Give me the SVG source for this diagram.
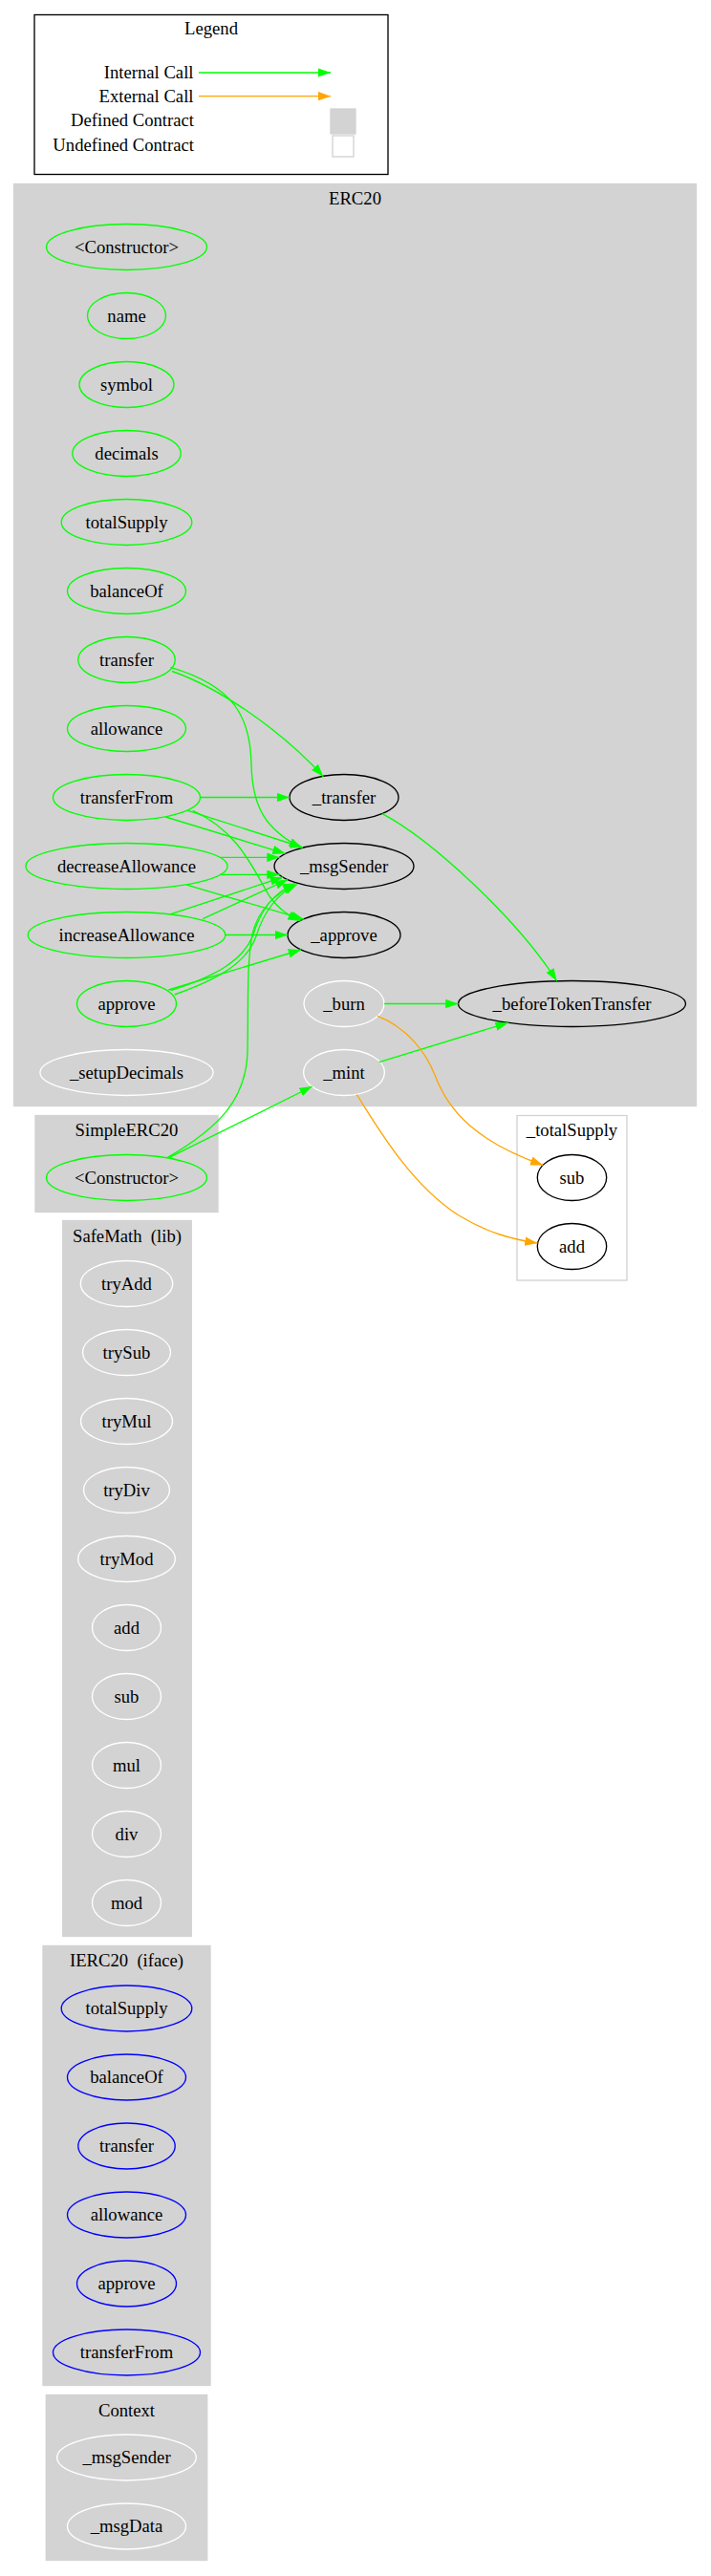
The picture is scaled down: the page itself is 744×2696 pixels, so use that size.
<svg xmlns="http://www.w3.org/2000/svg" width="744" height="2696" viewBox="0 0 744 2696">
<style>
text{font-family:"Liberation Serif","Times New Roman",serif;font-size:18.67px;fill:#000;text-anchor:middle}
.end{text-anchor:end}
.pre{white-space:pre}
.cl{fill:#d3d3d3;stroke:#d3d3d3;stroke-width:1.33}
.ud{fill:#fff;stroke:#d3d3d3;stroke-width:1.33}
ellipse{fill:none;stroke-width:1.33}
.g{stroke:#00ff00}.k{stroke:#000}.w{stroke:#fff}.b{stroke:#0000ff}
.e{fill:none;stroke-width:1.33}
.ge{stroke:#00ff00;marker-end:url(#ag)}
.oe{stroke:#ffa500;marker-end:url(#ao)}
</style>
<defs>
<marker id="ag" viewBox="0 0 13.3 9.4" refX="13.3" refY="4.7" markerWidth="13.3" markerHeight="9.4" markerUnits="userSpaceOnUse" orient="auto"><path d="M0,0 L13.3,4.7 L0,9.4 z" fill="#00ff00"/></marker>
<marker id="ao" viewBox="0 0 13.3 9.4" refX="13.3" refY="4.7" markerWidth="13.3" markerHeight="9.4" markerUnits="userSpaceOnUse" orient="auto"><path d="M0,0 L13.3,4.7 L0,9.4 z" fill="#ffa500"/></marker>
</defs>
<rect x="0" y="0" width="744" height="2696" fill="#fff"/>

<g id="legend">
<rect x="36" y="15.5" width="370" height="167" fill="none" stroke="#000" stroke-width="1.33"/>
<text x="221" y="36">Legend</text>
<text class="end" x="202.5" y="82">Internal Call</text>
<path class="e ge" d="M208,76 L346,76"/>
<text class="end" x="202.5" y="106.7">External Call</text>
<path class="e oe" d="M208,100.7 L346,100.7"/>
<text class="end" x="203" y="132">Defined Contract</text>
<rect class="cl" x="346" y="114" width="26" height="26"/>
<text class="end" x="203" y="158">Undefined Contract</text>
<rect class="ud" x="348" y="142" width="22" height="22"/>
</g>

<g id="cluster_ERC20">
<rect class="cl" x="14.5" y="192.5" width="714" height="965"/>
<text x="371.5" y="214">ERC20</text>
</g>
<g id="ERC20_ctor"><ellipse class="g" cx="132.5" cy="258.5" rx="84" ry="24"/><text x="132.5" y="264.5">&lt;Constructor&gt;</text></g>
<g id="ERC20_name"><ellipse class="g" cx="132.5" cy="330.5" rx="41" ry="24"/><text x="132.5" y="336.5">name</text></g>
<g id="ERC20_symbol"><ellipse class="g" cx="132.5" cy="402.5" rx="49.5" ry="24"/><text x="132.5" y="408.5">symbol</text></g>
<g id="ERC20_decimals"><ellipse class="g" cx="132.5" cy="474.5" rx="56.7" ry="24"/><text x="132.5" y="480.5">decimals</text></g>
<g id="ERC20_totalSupply"><ellipse class="g" cx="132.5" cy="546.5" rx="68.3" ry="24"/><text x="132.5" y="552.5">totalSupply</text></g>
<g id="ERC20_balanceOf"><ellipse class="g" cx="132.5" cy="618.5" rx="62" ry="24"/><text x="132.5" y="624.5">balanceOf</text></g>
<g id="ERC20_transfer"><ellipse class="g" cx="132.5" cy="690.5" rx="50.7" ry="24"/><text x="132.5" y="696.5">transfer</text></g>
<g id="ERC20_allowance"><ellipse class="g" cx="132.5" cy="762.5" rx="62" ry="24"/><text x="132.5" y="768.5">allowance</text></g>
<g id="ERC20_transferFrom"><ellipse class="g" cx="132.5" cy="834.5" rx="77" ry="24"/><text x="132.5" y="840.5">transferFrom</text></g>
<g id="ERC20_decreaseAllowance"><ellipse class="g" cx="132.5" cy="906.5" rx="105.6" ry="24"/><text x="132.5" y="912.5">decreaseAllowance</text></g>
<g id="ERC20_increaseAllowance"><ellipse class="g" cx="132.5" cy="978.5" rx="103.3" ry="24"/><text x="132.5" y="984.5">increaseAllowance</text></g>
<g id="ERC20_approve"><ellipse class="g" cx="132.5" cy="1050.5" rx="52" ry="24"/><text x="132.5" y="1056.5">approve</text></g>
<g id="ERC20_setupDecimals"><ellipse class="w" cx="132.5" cy="1122.5" rx="90.6" ry="24"/><text x="132.5" y="1128.5">_setupDecimals</text></g>
<g id="ERC20__transfer"><ellipse class="k" cx="360" cy="834.5" rx="57" ry="24"/><text x="360" y="840.5">_transfer</text></g>
<g id="ERC20__msgSender"><ellipse class="k" cx="360" cy="906.5" rx="73" ry="24"/><text x="360" y="912.5">_msgSender</text></g>
<g id="ERC20__approve"><ellipse class="k" cx="360" cy="978.5" rx="59" ry="24"/><text x="360" y="984.5">_approve</text></g>
<g id="ERC20__burn"><ellipse class="w" cx="360" cy="1050.5" rx="42" ry="24"/><text x="360" y="1056.5">_burn</text></g>
<g id="ERC20__mint"><ellipse class="w" cx="360" cy="1122.5" rx="42.4" ry="24"/><text x="360" y="1128.5">_mint</text></g>
<g id="ERC20__beforeTokenTransfer"><ellipse class="k" cx="598.5" cy="1050.5" rx="119" ry="24"/><text x="598.5" y="1056.5">_beforeTokenTransfer</text></g>

<g id="cluster_SimpleERC20">
<rect class="cl" x="37" y="1167.5" width="191" height="101"/>
<text x="132.5" y="1189">SimpleERC20</text>
</g>
<g id="SimpleERC20_ctor"><ellipse class="g" cx="132.5" cy="1232.5" rx="84" ry="24"/><text x="132.5" y="1238.5">&lt;Constructor&gt;</text></g>

<g id="cluster_totalSupply">
<rect class="ud" x="541" y="1167.5" width="115" height="172.5"/>
<text x="598.5" y="1189">_totalSupply</text>
</g>
<g id="totalSupply_sub"><ellipse class="k" cx="598.5" cy="1232.5" rx="36.2" ry="24"/><text x="598.5" y="1238.5">sub</text></g>
<g id="totalSupply_add"><ellipse class="k" cx="598.5" cy="1304.5" rx="36.2" ry="24"/><text x="598.5" y="1310.5">add</text></g>

<g id="cluster_SafeMath">
<rect class="cl" x="65.7" y="1277.5" width="134.6" height="749"/>
<text class="pre" x="133" y="1299.5">SafeMath  (lib)</text>
</g>
<g id="SafeMath_tryAdd"><ellipse class="w" cx="132.5" cy="1343.5" rx="48.2" ry="24"/><text x="132.5" y="1349.5">tryAdd</text></g>
<g id="SafeMath_trySub"><ellipse class="w" cx="132.5" cy="1415.5" rx="46" ry="24"/><text x="132.5" y="1421.5">trySub</text></g>
<g id="SafeMath_tryMul"><ellipse class="w" cx="132.5" cy="1487.5" rx="48" ry="24"/><text x="132.5" y="1493.5">tryMul</text></g>
<g id="SafeMath_tryDiv"><ellipse class="w" cx="132.5" cy="1559.5" rx="45" ry="24"/><text x="132.5" y="1565.5">tryDiv</text></g>
<g id="SafeMath_tryMod"><ellipse class="w" cx="132.5" cy="1631.5" rx="50.8" ry="24"/><text x="132.5" y="1637.5">tryMod</text></g>
<g id="SafeMath_add"><ellipse class="w" cx="132.5" cy="1703.5" rx="36" ry="24"/><text x="132.5" y="1709.5">add</text></g>
<g id="SafeMath_sub"><ellipse class="w" cx="132.5" cy="1775.5" rx="36" ry="24"/><text x="132.5" y="1781.5">sub</text></g>
<g id="SafeMath_mul"><ellipse class="w" cx="132.5" cy="1847.5" rx="36" ry="24"/><text x="132.5" y="1853.5">mul</text></g>
<g id="SafeMath_div"><ellipse class="w" cx="132.5" cy="1919.5" rx="36" ry="24"/><text x="132.5" y="1925.5">div</text></g>
<g id="SafeMath_mod"><ellipse class="w" cx="132.5" cy="1991.5" rx="36" ry="24"/><text x="132.5" y="1997.5">mod</text></g>

<g id="cluster_IERC20">
<rect class="cl" x="45" y="2036.5" width="175" height="460"/>
<text class="pre" x="132.5" y="2058">IERC20  (iface)</text>
</g>
<g id="IERC20_totalSupply"><ellipse class="b" cx="132.5" cy="2102" rx="68.3" ry="24"/><text x="132.5" y="2108">totalSupply</text></g>
<g id="IERC20_balanceOf"><ellipse class="b" cx="132.5" cy="2174" rx="62" ry="24"/><text x="132.5" y="2180">balanceOf</text></g>
<g id="IERC20_transfer"><ellipse class="b" cx="132.5" cy="2246" rx="50.7" ry="24"/><text x="132.5" y="2252">transfer</text></g>
<g id="IERC20_allowance"><ellipse class="b" cx="132.5" cy="2318" rx="62" ry="24"/><text x="132.5" y="2324">allowance</text></g>
<g id="IERC20_approve"><ellipse class="b" cx="132.5" cy="2390" rx="52" ry="24"/><text x="132.5" y="2396">approve</text></g>
<g id="IERC20_transferFrom"><ellipse class="b" cx="132.5" cy="2462" rx="77" ry="24"/><text x="132.5" y="2468">transferFrom</text></g>

<g id="cluster_Context">
<rect class="cl" x="48.3" y="2506.5" width="168.4" height="173"/>
<text x="132.5" y="2528.5">Context</text>
</g>
<g id="Context__msgSender"><ellipse class="w" cx="132.5" cy="2572" rx="72.8" ry="24"/><text x="132.5" y="2578">_msgSender</text></g>
<g id="Context__msgData"><ellipse class="w" cx="132.5" cy="2644" rx="62" ry="24"/><text x="132.5" y="2650">_msgData</text></g>

<g id="edges">
<path class="e ge" d="M180,702.5 C230,720 295,765 338.3,812.7"/>
<path class="e ge" d="M178.3,698.3 C245,718 262,750 263,800 C264,845 278,868 315.5,887.5"/>
<path class="e ge" d="M209.5,834.5 L303,834.5"/>
<path class="e ge" d="M196.7,848.3 L317,887"/>
<path class="e ge" d="M173.3,855 L298.5,893.3"/>
<path class="e ge" d="M201.7,848.3 C250,870 265,910 282,938 C292,952 302,958 314.5,964"/>
<path class="e ge" d="M230,897.3 L292.6,897.3"/>
<path class="e ge" d="M230,915.3 L292.6,915.3"/>
<path class="e ge" d="M195.5,926.2 L318,962.2"/>
<path class="e ge" d="M235.8,978.5 L301,978.5"/>
<path class="e ge" d="M178.8,956.7 L296,918"/>
<path class="e ge" d="M212.2,961.7 L301,920.6"/>
<path class="e ge" d="M176.4,1036 L315,994"/>
<path class="e ge" d="M178.8,1036.7 C225,1022 255,1005 265,978 C272,955 286,934 309,924.5"/>
<path class="e ge" d="M182.6,1041 C228,1025 258,1008 268,980 C275,957 289,936 311,925.5"/>
<path class="e ge" d="M175,1211.7 C230,1180 258,1150 259,1100 C260,1050 258,1010 264,978 C270,952 288,935 310,926"/>
<path class="e ge" d="M176.7,1211.7 L326.7,1137"/>
<path class="e ge" d="M400,851.7 C450,878 540,960 582.7,1026.7"/>
<path class="e ge" d="M402,1050.5 L479.5,1050.5"/>
<path class="e ge" d="M396.7,1111.7 L531.7,1070.4"/>
<path class="e oe" d="M395,1063.3 C425,1075 445,1100 455,1125 C470,1165 500,1195 568.3,1219.5"/>
<path class="e oe" d="M373.3,1145.5 C395,1180 430,1240 480,1272 C510,1290 535,1297 562.5,1301"/>
</g>
</svg>
